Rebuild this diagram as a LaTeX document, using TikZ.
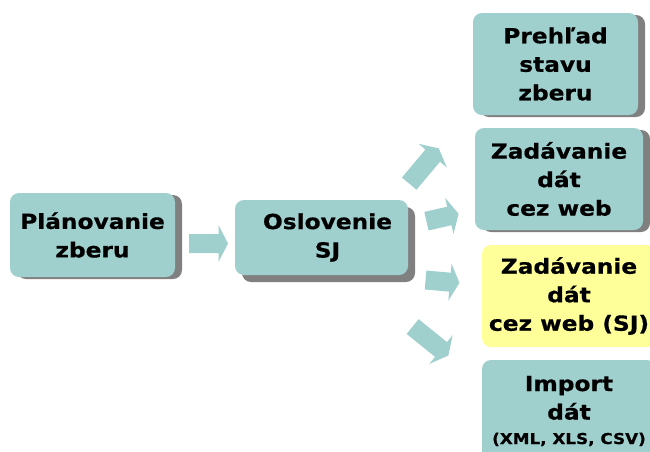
\documentclass[tikz,border=0pt]{standalone}
\usepackage{fontspec}
\setmainfont{DejaVu Sans}[FakeStretch=1.12, BoldFeatures={FakeBold=0.6}]
\usetikzlibrary{shadows}
\definecolor{boxteal}{HTML}{9FD0CE}
\definecolor{boxyellow}{HTML}{FFFF99}
\definecolor{shadowgray}{HTML}{808080}
\tikzset{
  stepbox/.style={rounded corners=9pt, fill=boxteal, draw=none, align=center,
    inner sep=0pt, font=\fontsize{20.8}{28.5}\selectfont\bfseries},
  sideshadow/.style={drop shadow={shadow xshift=7pt, shadow yshift=-2pt, fill=shadowgray, opacity=1}},
  fullshadow/.style={drop shadow={shadow xshift=7pt, shadow yshift=-7pt, fill=shadowgray, opacity=1}},
  arrowfill/.style={fill=boxteal, draw=none},
}
% block arrow: name, centre, angle, length
\newcommand\blockarr[4]{%
  \coordinate (#1) at (#2);
  \fill[arrowfill, shift={(#1)}, rotate=#3]
    ({-#4/2},-9.5) -- ({#4/2-9.5},-9.5) -- ({#4/2-9.5},-18.5) -- ({#4/2},0)
    -- ({#4/2-9.5},18.5) -- ({#4/2-9.5},9.5) -- ({-#4/2},9.5) -- cycle;
}
\begin{document}
\begin{tikzpicture}[x=1pt,y=-1pt]
\clip (0,0) rectangle (650,451);
\fill[white] (0,0) rectangle (650,451);
% boxes
\node[stepbox, sideshadow, minimum width=165pt, minimum height=84pt] (plan) at (92.5,235) {Plánovanie\\zberu};
\node[stepbox, fullshadow, minimum width=173pt, minimum height=75pt] (osl) at (321.5,237.5) {\hspace*{12pt}Oslovenie\\\hspace*{12pt}SJ};
\node[stepbox, sideshadow, minimum width=165pt, minimum height=102pt] (preh) at (555.5,64) {Prehľad\\stavu\\zberu};
\node[stepbox, sideshadow, minimum width=168pt, minimum height=102pt] (web) at (559,179) {Zadávanie\\dát\\cez web};
\node[stepbox, fill=boxyellow, minimum width=174pt, minimum height=102pt] (websj) at (569,296) {Zadávanie\\dát\\cez web (SJ)};
\node[stepbox, minimum width=174pt, minimum height=102pt] (imp) at (569,411) {Import\\dát\\[-4pt]{\fontsize{15}{18}\selectfont (XML, XLS, CSV)}};
% block arrows
\blockarr{a0}{208.5,243.5}{0}{39}
\blockarr{a1}{424,166}{50}{46}
\blockarr{a2}{442.5,217.5}{13}{33}
\blockarr{a3}{442.5,281.5}{-5}{34}
\blockarr{a4}{430.5,341}{-39}{46}
\end{tikzpicture}
\end{document}
